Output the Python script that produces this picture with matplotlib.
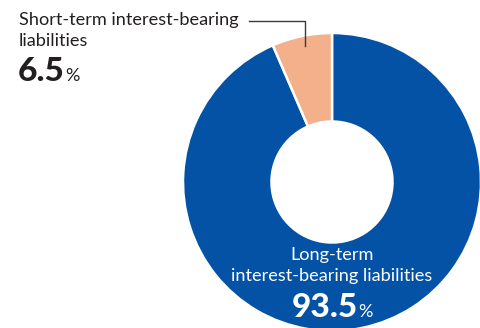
import matplotlib
matplotlib.use("Agg")
import matplotlib.pyplot as plt

# data
labels = ["Long-term\ninterest-bearing liabilities", "Short-term interest-bearing\nliabilities"]
shares = [93.5, 6.5]
colors = ["#0452A5", "#F4B08A"]

W, H = 481, 328
fig = plt.figure(figsize=(W / 100, H / 100), dpi=100)
ax = fig.add_axes([0, 0, 1, 1])

def py(y):
    # pixel row (from top) -> data y
    return H - y

cx, cy, R, r_in = 332, py(182), 149, 60.5
ax.pie(shares, colors=colors, startangle=90, counterclock=False,
       center=(cx, cy), radius=R,
       wedgeprops=dict(width=R - r_in, edgecolor="white", linewidth=1.8))
ax.set_xlim(0, W)
ax.set_ylim(0, H)
ax.set_aspect("equal")
ax.axis("off")

font = "Lato"
dark = "#231F20"
fs = 13.1

# short-term label (top left)
ax.text(19, py(24.5), "Short-term interest-bearing", fontsize=fs, family=font,
        color=dark, va="baseline", ha="left")
ax.text(19, py(45.5), "liabilities", fontsize=fs, family=font,
        color=dark, va="baseline", ha="left")
ax.plot([249, 305, 305], [py(20.7), py(20.7), py(46)], color="#3a3a3a", lw=1.0)

# long-term label inside the blue ring
ax.text(cx, py(260), "Long-term", fontsize=fs, family=font,
        color="white", va="baseline", ha="center")
ax.text(cx, py(280.5), "interest-bearing liabilities", fontsize=fs, family=font,
        color="white", va="baseline", ha="center")

# big percentages: bold number + small %
fig.canvas.draw()
rend = fig.canvas.get_renderer()

def pct(x, ybase, value, color, center=False):
    num = ax.text(x, ybase, f"{value:.1f}", fontsize=24, family=font,
                  fontweight="black", color=color, va="baseline", ha="left")
    bb = num.get_window_extent(rend)
    sign = ax.text(0, ybase, "%", fontsize=13, family=font,
                   color=color, va="baseline", ha="left")
    sb = sign.get_window_extent(rend)
    gap = 0
    total = bb.width + gap + sb.width
    x0 = x - total / 2 if center else x
    num.set_x(x0)
    sign.set_x(x0 + bb.width + gap)

pct(18, py(81), shares[1], dark)
pct(cx, py(317), shares[0], "white", center=True)

fig.savefig("out.png", dpi=100)
